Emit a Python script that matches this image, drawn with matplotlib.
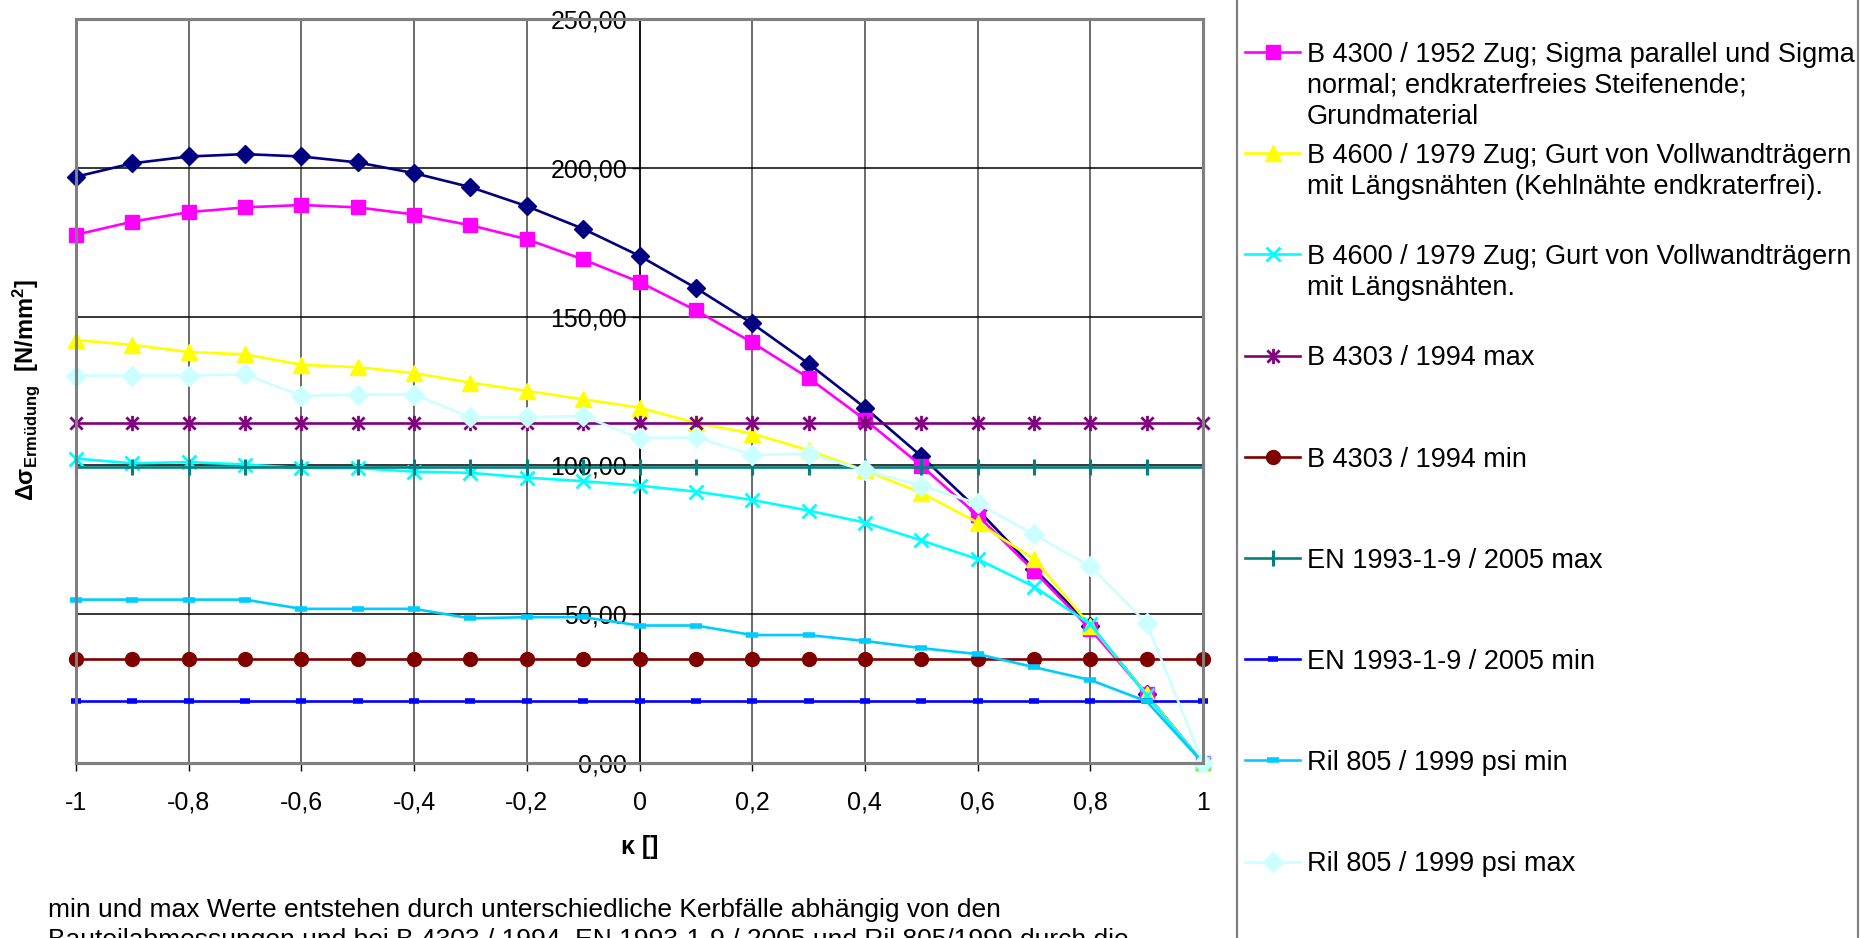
import matplotlib
matplotlib.use("Agg")
import matplotlib.pyplot as plt
from matplotlib.lines import Line2D
from matplotlib.patches import Rectangle
from matplotlib.path import Path
from matplotlib import font_manager

FONT = "Liberation Sans"
plt.rcParams['font.family'] = [FONT, 'DejaVu Sans']
plt.rcParams['mathtext.fontset'] = 'custom'
plt.rcParams['mathtext.rm'] = FONT
plt.rcParams['mathtext.bf'] = FONT + ':bold'
plt.rcParams['mathtext.it'] = FONT + ':italic'

# ---------------- data ----------------
kappa = [-1.0, -0.9, -0.8, -0.7, -0.6, -0.5, -0.4, -0.3, -0.2, -0.1, 0.0,
         0.1, 0.2, 0.3, 0.4, 0.5, 0.6, 0.7, 0.8, 0.9, 1.0]

navy_vals = [197.0, 201.5, 203.8, 204.6, 203.8, 201.8, 198.2, 193.5, 187.1, 179.5, 170.4,
             159.6, 147.7, 134.2, 119.4, 103.1, 85.2, 65.3, 46.2, 23.1, 0.0]
b4300_vals = [177.5, 181.9, 185.1, 186.7, 187.5, 186.7, 184.3, 180.7, 176.0, 169.2, 161.6,
              152.1, 141.3, 129.4, 115.4, 99.9, 83.2, 64.5, 45.0, 23.1, 0.0]
b4600a_vals = [142.1, 140.5, 138.1, 137.3, 133.8, 133.0, 131.0, 127.8, 125.0, 122.2, 119.4,
               114.3, 110.7, 105.1, 98.3, 90.8, 80.8, 68.5, 46.2, 23.1, 0.0]
b4600b_vals = [102.3, 100.7, 101.1, 100.3, 99.1, 99.1, 97.9, 97.5, 95.9, 94.7, 93.2,
               91.2, 88.4, 84.8, 80.8, 74.8, 68.5, 59.3, 46.6, 22.7, 0.0]
b4303max_vals = [114.2] * 21
b4303min_vals = [35.0] * 21
enmax_vals = [99.3] * 21
enmin_vals = [21.0] * 21
psimin_vals = [54.9, 54.9, 54.9, 54.9, 51.8, 51.8, 51.8, 48.6, 49.0, 49.0, 46.2,
               46.2, 43.0, 43.0, 41.0, 38.6, 36.6, 32.2, 27.9, 20.7, 0.0]
psimax_vals = [130.2, 130.2, 130.2, 130.6, 123.4, 123.8, 123.8, 116.2, 116.2, 116.6, 109.1,
               109.5, 103.5, 103.9, 98.3, 93.2, 87.2, 76.8, 66.1, 47.0, 0.0]

legend_labels = [
    "B 4300 / 1952 Zug; Sigma parallel und Sigma\nnormal; endkraterfreies Steifenende;\nGrundmaterial",
    "B 4600 / 1979 Zug; Gurt von Vollwandträgern\nmit Längsnähten (Kehlnähte endkraterfrei).",
    "B 4600 / 1979 Zug; Gurt von Vollwandträgern\nmit Längsnähten.",
    "B 4303 / 1994 max",
    "B 4303 / 1994 min",
    "EN 1993-1-9 / 2005 max",
    "EN 1993-1-9 / 2005 min",
    "Ril 805 / 1999 psi min",
    "Ril 805 / 1999 psi max",
]

x_ticks = [-1, -0.8, -0.6, -0.4, -0.2, 0, 0.2, 0.4, 0.6, 0.8, 1]
x_ticklabels = ["-1", "-0,8", "-0,6", "-0,4", "-0,2", "0", "0,2", "0,4", "0,6", "0,8", "1"]
y_ticks = [0, 50, 100, 150, 200, 250]
y_ticklabels = ["0,00", "50,00", "100,00", "150,00", "200,00", "250,00"]

footnote = ("min und max Werte entstehen durch unterschiedliche Kerbfälle abhängig von den\n"
            "Bauteilabmessungen und bei B 4303 / 1994, EN 1993-1-9 / 2005 und Ril 805/1999 durch die")

# ---------------- styles ----------------
asterisk = Path([(0, -1), (0, 1), (-0.8, -0.8), (0.8, 0.8), (-0.8, 0.8), (0.8, -0.8)],
                [Path.MOVETO, Path.LINETO, Path.MOVETO, Path.LINETO, Path.MOVETO, Path.LINETO])

series = [
    (navy_vals, dict(color="#000080", marker="D", ms=9, mec="#000080", mfc="#000080")),
    (b4300_vals, dict(color="#FF00FF", marker="s", ms=10.5, mec="#FF00FF", mfc="#FF00FF")),
    (b4600a_vals, dict(color="#FFFF00", marker="^", ms=11, mec="#FFFF00", mfc="#FFFF00")),
    (b4600b_vals, dict(color="#00FFFF", marker="x", ms=10, mew=2.0)),
    (b4303max_vals, dict(color="#800080", marker=asterisk, ms=11, mew=2.0)),
    (b4303min_vals, dict(color="#800000", marker="o", ms=10, mec="#800000", mfc="#800000")),
    (enmax_vals, dict(color="#008080", marker="|", ms=11, mew=2.2)),
    (enmin_vals, dict(color="#0000FF", marker="_", ms=7, mew=4)),
    (psimin_vals, dict(color="#00CCFF", marker="_", ms=8, mew=4)),
    (psimax_vals, dict(color="#CCFFFF", marker="D", ms=10, mec="#CCFFFF", mfc="#CCFFFF")),
]

W, H = 1860, 938
fig = plt.figure(figsize=(W / 100, H / 100), dpi=100)
L, R, T, B = 76, 1203, 19, 763
ax = fig.add_axes([L / W, 1 - B / H, (R - L) / W, (B - T) / H])

ax.set_xlim(-1, 1)
ax.set_ylim(0, 250)

# gridlines
for xv in x_ticks:
    ax.axvline(xv, color="#444444", lw=1.1, zorder=1)
for yv in y_ticks:
    ax.axhline(yv, color="#000000", lw=1.1, zorder=1)

for vals, st in series:
    ax.plot(kappa, vals, lw=1.9, clip_on=False, zorder=3, **st)

# frame
for s in ['top', 'right', 'bottom']:
    ax.spines[s].set_color("#808080")
    ax.spines[s].set_linewidth(2.2)
ax.spines['left'].set_position(('data', 0))
ax.spines['left'].set_color("#000000")
ax.spines['left'].set_linewidth(1.1)
ax.add_patch(Rectangle((0, 0), 1, 1, transform=ax.transAxes, fill=False,
                       ec="#808080", lw=2.2, zorder=4, clip_on=False))

ax.set_xticks(x_ticks)
ax.set_xticklabels(x_ticklabels, fontsize=18)
ax.set_yticks(y_ticks)
ax.set_yticklabels(y_ticklabels, fontsize=18)
ax.tick_params(axis='x', direction='out', length=6, width=1, color="#000000", pad=14)
ax.tick_params(axis='y', direction='out', length=6, width=1, color="#000000", pad=3)
for lab in ax.get_yticklabels():
    lab.set_zorder(5)

# axis titles
fig.text(26 / W, 1 - 390 / H,
         r'$\mathbf{\Delta\sigma_{Ermüdung}}$  $\mathbf{[N/mm^2]}$',
         rotation=90, ha='center', va='center', fontsize=17)
fig.text(640 / W, 1 - 847 / H, "κ []", fontweight='bold', fontsize=18,
         ha='center', va='center')

# footnote
em = 26.4
fn_lines = footnote.split("\n")
for i, line in enumerate(fn_lines):
    fig.text(48 / W, 1 - (907 + 0.36 * em + i * 30) / H, line, fontsize=19,
             ha='left', va='baseline')

# legend (manual, Excel-like fixed slot spacing)
fig.add_artist(Rectangle((1237 / W, -0.05), (1858 - 1237) / W, 1.1,
                         transform=fig.transFigure, fill=False, ec="#808080", lw=1.6))
leg_em = 27.0
for k, ((vals, st), label) in enumerate(zip(series[1:], legend_labels)):
    yc = 52 + k * 101.2
    fy = 1 - yc / H
    st2 = dict(st)
    fig.add_artist(Line2D([1245 / W, 1300 / W], [fy, fy], transform=fig.transFigure,
                          lw=1.9, color=st2.pop('color')))
    fig.add_artist(Line2D([1272.5 / W], [fy], transform=fig.transFigure, lw=0,
                          color=st['color'], **st2))
    for j, line in enumerate(label.split("\n")):
        fig.text(1307 / W, 1 - (yc + 0.36 * leg_em + j * 31) / H, line, fontsize=19.5,
                 ha='left', va='baseline')

fig.savefig("out.png", dpi=100)
